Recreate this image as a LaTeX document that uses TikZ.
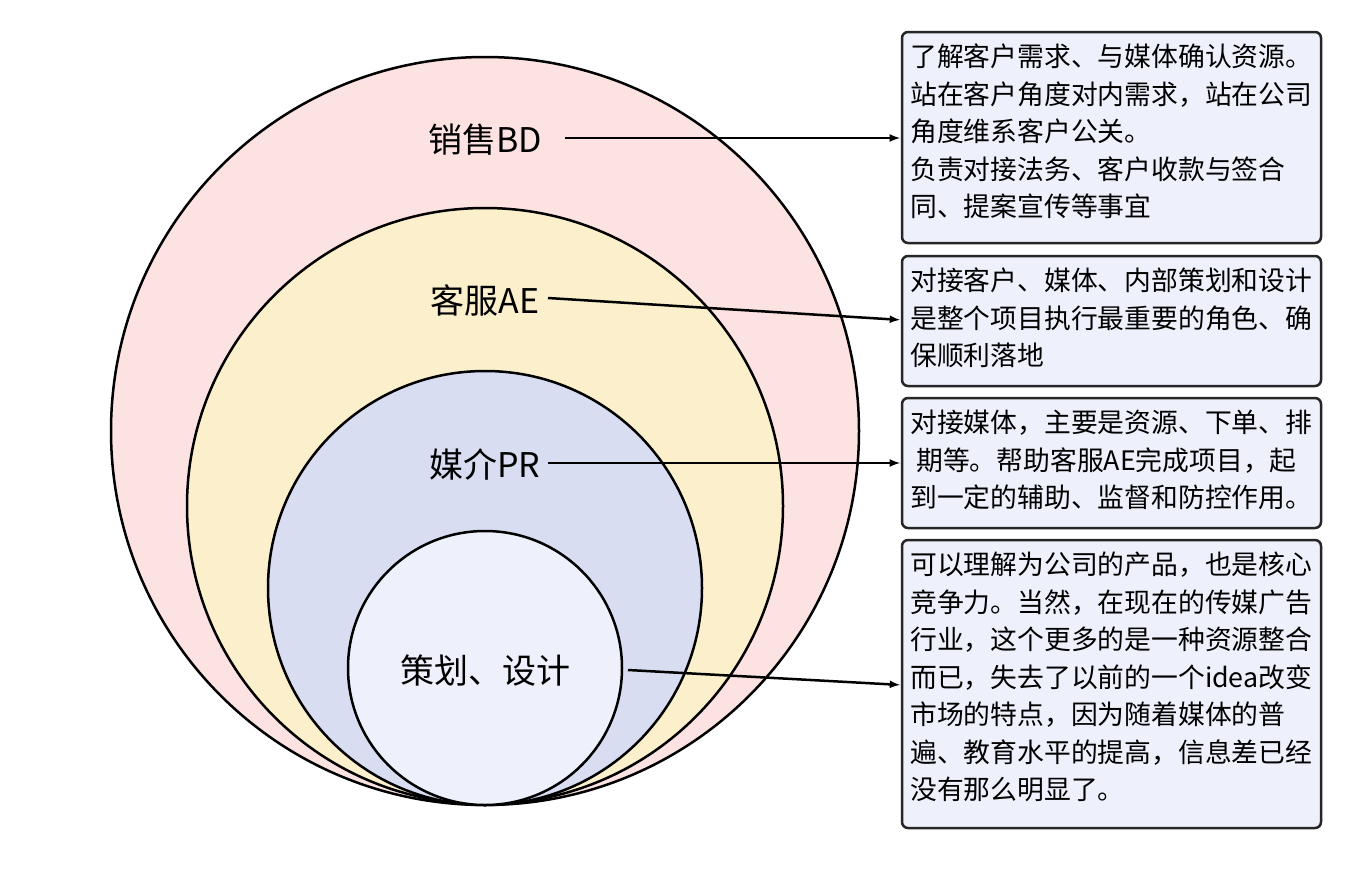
\documentclass[tikz,border=0pt]{standalone}
\usepackage{fontspec}
\setmainfont{Noto Sans CJK SC}
\begin{document}
\begin{tikzpicture}[x=1pt,y=-1pt,
  ring/.style={draw=black,line width=2.5pt},
  lbl/.style={font=\fontsize{34}{40}\selectfont},
  box/.style={draw=black!85,line width=2.5pt,rounded corners=6pt,fill=boxc,anchor=north west,inner sep=0pt},
  txt/.style={anchor=north west,align=left,font=\fontsize{26.8}{37.5}\selectfont,inner sep=0pt},
  arr/.style={-latex,line width=2.5pt,shorten >=2pt}]
\definecolor{c1}{HTML}{FDE2E2}
\definecolor{c2}{HTML}{FCF0CC}
\definecolor{c3}{HTML}{D9DDF1}
\definecolor{c4}{HTML}{EEF1FB}
\definecolor{boxc}{HTML}{EEF1FB}
\useasboundingbox (0,0) rectangle (1353,873);
\fill[white] (0,0) rectangle (1353,873);
\draw[ring,fill=c1] (485,431) circle (374);
\draw[ring,fill=c2] (485,506) circle (298);
\draw[ring,fill=c3] (485,588) circle (217);
\draw[ring,fill=c4] (485,668) circle (137);
\node[lbl] (bd) at (485,140) {销售BD};
\node[lbl] (ae) at (485,300) {客服AE};
\node[lbl] (pr) at (485,464) {媒介PR};
\node[lbl] (sj) at (485,671) {策划、设计};
\draw[box] (902,32) rectangle (1321,243);
\draw[box] (902,256) rectangle (1321,386);
\draw[box] (902,398) rectangle (1321,528);
\draw[box] (902,540) rectangle (1321,828);
\coordinate (b1) at (902,138);
\coordinate (b2) at (902,320);
\coordinate (b3) at (902,463);
\coordinate (b4) at (902,685);
\node[txt] at (910,44) {了解客户需求、与媒体确认资源。\\站在客户角度对内需求，站在公司\\角度维系客户公关。\\负责对接法务、客户收款与签合\\同、提案宣传等事宜};
\node[txt] at (910,268) {对接客户、媒体、内部策划和设计\\是整个项目执行最重要的角色、确\\保顺利落地};
\node[txt] at (910,410) {对接媒体，主要是资源、下单、排\\\ 期等。帮助客服AE完成项目，起\\到一定的辅助、监督和防控作用。};
\node[txt] at (910,552) {可以理解为公司的产品，也是核心\\竞争力。当然，在现在的传媒广告\\行业，这个更多的是一种资源整合\\而已，失去了以前的一个idea改变\\市场的特点，因为随着媒体的普\\遍、教育水平的提高，信息差已经\\没有那么明显了。};
\draw[arr] (565,138) -- (b1);
\draw[arr] (548,298) -- (b2);
\draw[arr] (548,463) -- (b3);
\draw[arr] (628,670) -- (b4);
\end{tikzpicture}
\end{document}
